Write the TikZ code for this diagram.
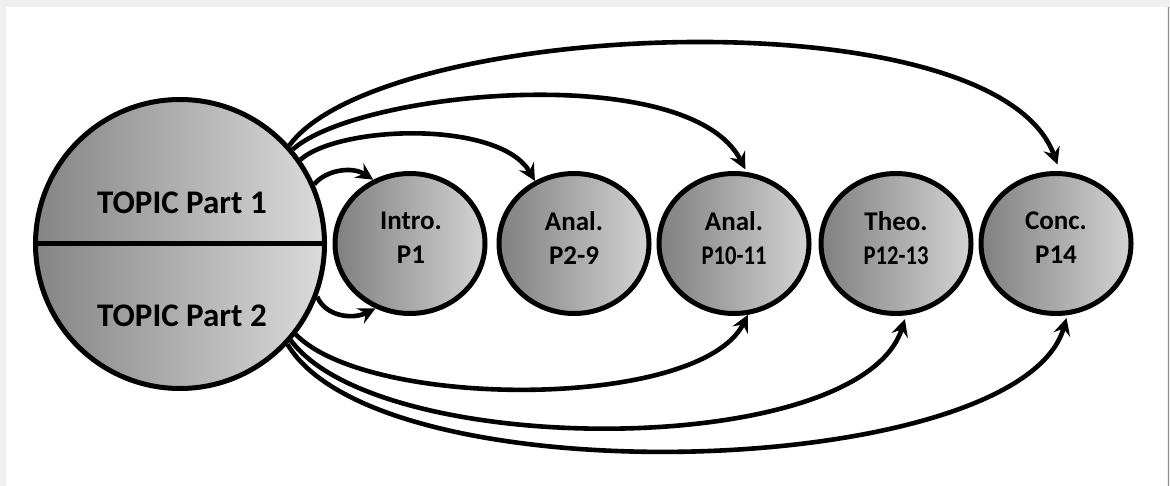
\documentclass[tikz,border=0pt]{standalone}
\usepackage{fontspec}
\setmainfont{Carlito}
\usetikzlibrary{arrows.meta,shapes.geometric}
\begin{document}
\begin{tikzpicture}[x=1pt,y=-1pt,
  bigc/.style={circle,draw=black,line width=5pt,minimum size=289pt,inner sep=0pt,left color=black!48,right color=black!14},
  smallc/.style={ellipse,draw=black,line width=5pt,minimum width=150pt,minimum height=140pt,inner sep=0pt,left color=black!50,right color=black!17},
  bigtxt/.style={font=\fontsize{33}{40}\selectfont\bfseries,inner sep=0pt},
  smalltxt/.style={align=center,font=\fontsize{27}{34}\selectfont\bfseries,inner sep=0pt},
  conn/.style={line width=4.6pt,-{Stealth[length=17pt,width=17pt,inset=6pt]}}
]
\useasboundingbox (0,0) rectangle (1170,486);
\fill[black!6] (0,0) rectangle (1170,486);
\fill[white] (6,7) rectangle (1167,486);
\draw[black!45,line width=1.5pt] (1168.5,7) -- (1168.5,486);

% main circle
\node[bigc] (topic) at (180,244) {};
\draw[line width=5pt] (topic.west) -- (topic.east);
\node[bigtxt] (t1) at (182,203) {TOPIC Part 1};
\node[bigtxt] (t2) at (182,316) {TOPIC Part 2};

% small circles
\node[smallc] (intro) at (410,243.5) {};
\node[smallc] (anal) at (574,243.5) {};
\node[smallc] (analb) at (734,243.5) {};
\node[smallc] (theo) at (896,243.5) {};
\node[smallc] (conc) at (1056,243.5) {};
\node[smalltxt] (introL) at (411,238) {Intro.\\P1};
\node[smalltxt] (analL) at (574,238) {Anal.\\P2-9};
\node[smalltxt] (analbL) at (734,238) {Anal.\\\scalebox{0.84}[1]{P10-11}};
\node[smalltxt] (theoL) at (896,238) {Theo.\\\scalebox{0.84}[1]{P12-13}};
\node[smalltxt] (concL) at (1056,238) {Conc.\\P14};

% top connectors
\draw[conn] (topic.24) .. controls (326,170) and (352,166) .. (intro.120);
\draw[conn] (topic.35) .. controls (340,125) and (500,120) .. (anal.122);
\draw[conn,shorten >=3pt] (topic.40.4) .. controls (360,90) and (690,60) .. (analb.80);
\draw[conn,shorten >=7pt] (topic.42.3) .. controls (380,20) and (995,-8) .. (conc.87);

% bottom connectors
\draw[conn] (topic.-21.5) .. controls (325,316) and (352,320) .. (intro.242);
\draw[conn] (topic.-38) .. controls (370,410) and (700,410) .. (analb.281);
\draw[conn,shorten >=4pt] (topic.-41.6) .. controls (380,460) and (860,460) .. (theo.278);
\draw[conn,shorten >=3pt] (topic.-43.9) .. controls (380,500) and (1020,480) .. (conc.279);
\end{tikzpicture}
\end{document}
